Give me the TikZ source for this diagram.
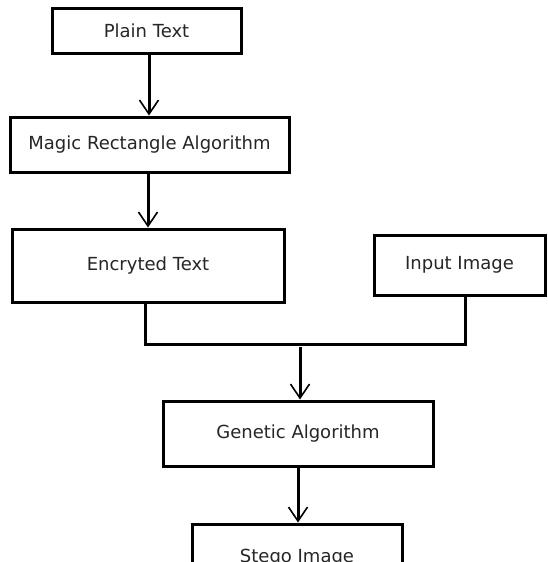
\documentclass[tikz,border=0pt]{standalone}
\usepackage{fontspec}
\setmainfont{DejaVu Sans}
\usetikzlibrary{arrows.meta,calc}
\begin{document}
\begin{tikzpicture}[x=1pt,y=-1pt,
  box/.style={draw=black,line width=3pt,fill=white,inner sep=0pt,
    font=\fontsize{18}{21}\selectfont,text=black!85},
  link/.style={line width=3pt},
  arr/.style={line width=3pt,-{Straight Barb[length=14pt,width=19pt,line width=1.6pt]}}]
\clip (0,0) rectangle (548,562);
\fill[white] (0,0) rectangle (548,562);
\node[box,minimum width=189pt,minimum height=45pt] (plain) at (146.5,30.5) {Plain Text};
\node[box,minimum width=279pt,minimum height=55pt] (magic) at (149.5,144.5) {Magic Rectangle Algorithm};
\node[box,minimum width=272pt,minimum height=73pt] (enc) at (148,265.5) {Encryted Text};
\node[box,minimum width=171pt,minimum height=60pt] (inp) at (459.5,265) {Input Image};
\node[box,minimum width=270pt,minimum height=65pt] (gen) at (298,433.5) {Genetic Algorithm};
\node[box,minimum width=210pt,minimum height=68pt] (stego) at (297,558) {Stego Image};
\coordinate (j) at (300,344);
\draw[arr] (plain.south -| 149,0) -- (magic.north -| 149,0);
\draw[arr] (magic.south -| 148,0) -- (enc.north -| 148,0);
\draw[link] ($(enc.south)+(-3,0)$) |- (j) -| (inp.south -| 465,0);
\draw[arr,shorten <=3pt] (j) -- (gen.north -| j);
\draw[arr] (gen.south -| 298,0) -- (stego.north -| 298,0);
\end{tikzpicture}
\end{document}
